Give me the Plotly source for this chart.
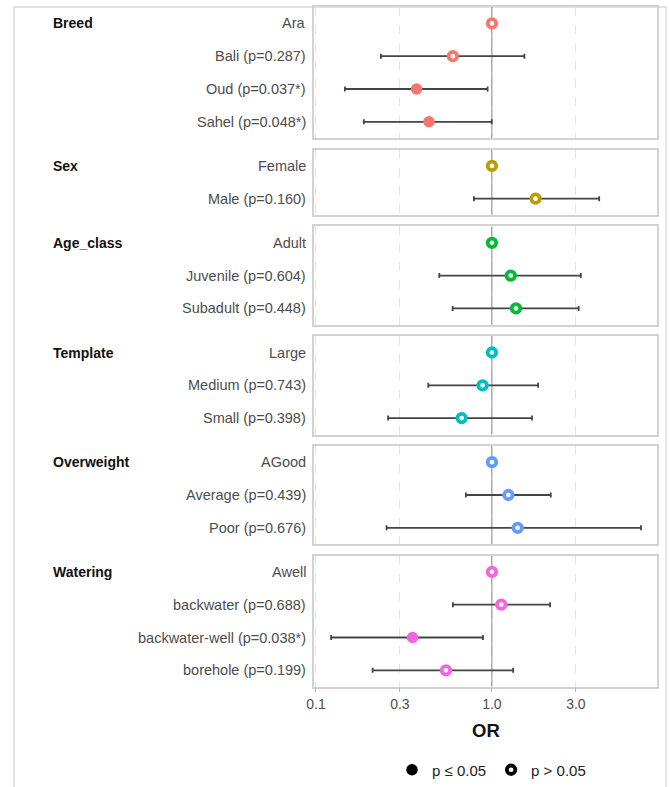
import plotly.graph_objects as go

# ---- data: odds ratios with 95% CI, one set of lists per factor ----
breed_levels = ["Ara", "Bali", "Oud", "Sahel"]
breed_or = [1.0, 0.60, 0.373, 0.439]
breed_lo = [None, 0.234, 0.146, 0.187]
breed_hi = [None, 1.53, 0.945, 0.998]
breed_p = [None, 0.287, 0.037, 0.048]

sex_levels = ["Female", "Male"]
sex_or = [1.0, 1.77]
sex_lo = [None, 0.79]
sex_hi = [None, 4.07]
sex_p = [None, 0.160]

age_levels = ["Adult", "Juvenile", "Subadult"]
age_or = [1.0, 1.28, 1.37]
age_lo = [None, 0.502, 0.598]
age_hi = [None, 3.20, 3.11]
age_p = [None, 0.604, 0.448]

template_levels = ["Large", "Medium", "Small"]
template_or = [1.0, 0.885, 0.673]
template_lo = [None, 0.435, 0.257]
template_hi = [None, 1.83, 1.69]
template_p = [None, 0.743, 0.398]

overweight_levels = ["AGood", "Average", "Poor"]
overweight_or = [1.0, 1.24, 1.40]
overweight_lo = [None, 0.711, 0.252]
overweight_hi = [None, 2.16, 7.03]
overweight_p = [None, 0.439, 0.676]

watering_levels = ["Awell", "backwater", "backwater-well", "borehole"]
watering_or = [1.0, 1.13, 0.354, 0.548]
watering_lo = [None, 0.60, 0.122, 0.21]
watering_hi = [None, 2.14, 0.889, 1.32]
watering_p = [None, 0.688, 0.038, 0.199]

group_names = ["Breed", "Sex", "Age_class", "Template", "Overweight", "Watering"]
group_colors = ["#F8766D", "#B79F00", "#00BA38", "#00BFC4", "#619CFF", "#F564E3"]

x_tick_vals = [0.1, 0.3, 1.0, 3.0]
x_tick_text = ["0.1", "0.3", "1.0", "3.0"]

factors = [
    (breed_levels, breed_or, breed_lo, breed_hi, breed_p),
    (sex_levels, sex_or, sex_lo, sex_hi, sex_p),
    (age_levels, age_or, age_lo, age_hi, age_p),
    (template_levels, template_or, template_lo, template_hi, template_p),
    (overweight_levels, overweight_or, overweight_lo, overweight_hi, overweight_p),
    (watering_levels, watering_or, watering_lo, watering_hi, watering_p),
]

# ---- layout constants (pixels) ----
W, H = 670, 787
PANEL_LEFT, PANEL_RIGHT = 314, 657
TOP0, ROW_H, GAP = 7, 32.8, 11.3
LABEL_RIGHT, GROUP_LEFT = 308, 51
X_RANGE = [-1.011, 0.938]

FONT = "Liberation Sans, Arial, sans-serif"
TEXT_GRAY = "#4d4d4d"
BORDER = "#d2d2d2"
ERR_COLOR = "#444444"


def label_for(level, p):
    if p is None:
        return level
    star = "*" if p <= 0.05 else ""
    return f"{level} (p={p:.3f}{star})"


fig = go.Figure()
annotations = []
layout_axes = {}

top = TOP0
n_panels = len(factors)
for i, (levels, ors, los, his, ps) in enumerate(factors, start=1):
    n = len(levels)
    bottom = top + n * ROW_H
    xa = "x" if i == 1 else f"x{i}"
    ya = "y" if i == 1 else f"y{i}"
    color = group_colors[i - 1]
    rows = list(range(1, n + 1))

    # reference line at OR = 1
    fig.add_trace(go.Scatter(
        x=[1.0, 1.0], y=[0.5, n + 0.5], mode="lines",
        line=dict(color="#8a8a8a", width=1), xaxis=xa, yaxis=ya,
        showlegend=False, hoverinfo="skip"))

    sig = [p is not None and p <= 0.05 for p in ps]
    for filled in (False, True):
        idx = [k for k in range(n) if sig[k] == filled]
        if not idx:
            continue
        xs = [ors[k] for k in idx]
        ys = [rows[k] for k in idx]
        plus = [None if his[k] is None else his[k] - ors[k] for k in idx]
        minus = [None if los[k] is None else ors[k] - los[k] for k in idx]
        if filled:
            marker = dict(symbol="circle", size=10, color=color,
                          line=dict(color=color, width=1.5))
        else:
            marker = dict(symbol="circle", size=8.5, color="white",
                          line=dict(color=color, width=3.8))
        fig.add_trace(go.Scatter(
            x=xs, y=ys, mode="markers", marker=marker,
            error_x=dict(type="data", symmetric=False, array=plus,
                         arrayminus=minus, color=ERR_COLOR, thickness=1.8,
                         width=2.5),
            xaxis=xa, yaxis=ya, showlegend=False, hoverinfo="x+y"))

    last = i == n_panels
    layout_axes["xaxis" if i == 1 else f"xaxis{i}"] = dict(
        type="log", range=X_RANGE, anchor=ya, automargin=False,
        domain=[PANEL_LEFT / W, PANEL_RIGHT / W],
        tickvals=x_tick_vals, ticktext=x_tick_text,
        showticklabels=last, ticks="outside" if last else "",
        ticklen=4, tickcolor="#b5b5b5", tickwidth=1,
        tickfont=dict(family=FONT, size=14, color=TEXT_GRAY),
        showgrid=True, gridcolor="#e2e2e2", griddash="dash", gridwidth=1,
        zeroline=False, showline=True, mirror=True,
        linecolor=BORDER, linewidth=1.5,
        **({} if i == 1 else {"matches": "x"}))
    layout_axes["yaxis" if i == 1 else f"yaxis{i}"] = dict(
        range=[n + 0.5, 0.5], anchor=xa, automargin=False,
        domain=[1 - bottom / H, 1 - top / H],
        showticklabels=False, showgrid=False, zeroline=False, ticks="",
        showline=True, mirror=True, linecolor=BORDER, linewidth=1.5)

    # row labels and factor name
    for k in range(n):
        annotations.append(dict(
            x=LABEL_RIGHT / W, xref="paper", y=rows[k], yref=ya,
            text=label_for(levels[k], ps[k]), showarrow=False,
            xanchor="right", yanchor="middle",
            font=dict(family=FONT, size=14.5, color=TEXT_GRAY)))
    annotations.append(dict(
        x=GROUP_LEFT / W, xref="paper", y=1, yref=ya,
        text=f"<b>{group_names[i - 1]}</b>", showarrow=False,
        xanchor="left", yanchor="middle",
        font=dict(family=FONT, size=14, color="#111111")))

    top = bottom + GAP

# x axis title
annotations.append(dict(
    x=(PANEL_LEFT + PANEL_RIGHT) / 2 / W, xref="paper", y=1 - 730 / H,
    yref="paper", text="<b>OR</b>", showarrow=False,
    xanchor="center", yanchor="middle",
    font=dict(family=FONT, size=18.5, color="#111111")))

# legend entries for significance
fig.add_trace(go.Scatter(
    x=[None], y=[None], mode="markers", name="p \u2264 0.05",
    marker=dict(symbol="circle", size=10, color="black",
                line=dict(color="black", width=1.5))))
fig.add_trace(go.Scatter(
    x=[None], y=[None], mode="markers", name="p > 0.05",
    marker=dict(symbol="circle", size=8.5, color="white",
                line=dict(color="black", width=3.8))))

fig.update_layout(
    template="none",
    width=W, height=H,
    margin=dict(l=0, r=0, t=0, b=0, autoexpand=False),
    paper_bgcolor="white", plot_bgcolor="white",
    annotations=annotations,
    shapes=[dict(type="rect", xref="paper", yref="paper",
                 x0=14 / W, x1=666 / W, y0=-0.05, y1=1 - 7 / H,
                 line=dict(color="#dadada", width=1.5), layer="below")],
    showlegend=True,
    legend=dict(orientation="h", x=392 / W, xanchor="left",
                y=1 - 770 / H, yanchor="middle",
                font=dict(family=FONT, size=15, color="#222222"),
                bgcolor="rgba(0,0,0,0)", borderwidth=0, itemclick=False),
    **layout_axes)

fig.write_html("out.html")
